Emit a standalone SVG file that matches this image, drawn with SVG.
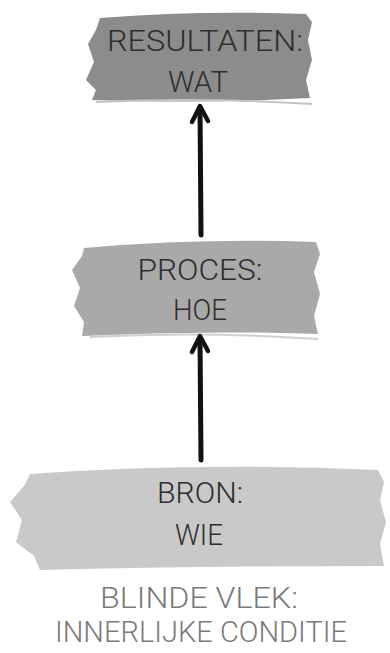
<svg xmlns="http://www.w3.org/2000/svg" width="390" height="653" viewBox="0 0 390 653">
  <style>
    .lbl { font-family: Roboto, "Liberation Sans", Arial, sans-serif; font-weight: 300; font-size: 29px; fill: #2e2e2e; text-anchor: middle; }
    .note { font-family: Roboto, "Liberation Sans", Arial, sans-serif; font-weight: 300; font-size: 29px; fill: #7a7a7a; text-anchor: middle; }
    .edge { stroke: #111; stroke-width: 5; fill: none; stroke-linecap: round; }
    .head { stroke: #111; stroke-width: 4.5; fill: none; stroke-linecap: round; stroke-linejoin: round; }
    .streak { fill: none; stroke-width: 2; }
  </style>
  <rect width="390" height="653" fill="#fff"/>

  <g id="resultaten">
    <path d="M100 18 Q200 10 306 14 L312 22 L308 40 L312 60 L306 80 L310 98 Q200 104 92 100 L96 90 L86 80 L94 62 L88 44 L96 30 Z" fill="#8c8c8c"/>
    <path class="streak" d="M96 102 Q200 97 312 104" stroke="#c4c4c4"/>
    <text class="lbl" x="205" y="51" textLength="196" lengthAdjust="spacingAndGlyphs">RESULTATEN:</text>
    <text class="lbl" x="198" y="92" textLength="60" lengthAdjust="spacingAndGlyphs">WAT</text>
  </g>

  <g id="proces">
    <path d="M84 248 Q200 238 316 242 L320 254 L314 272 L320 294 L314 316 L318 334 Q200 330 82 336 L84 322 L74 306 L80 288 L72 270 L82 256 Z" fill="#a9a9a9"/>
    <path class="streak" d="M90 337 Q200 331 318 339" stroke="#d0d0d0"/>
    <text class="lbl" x="200" y="280" textLength="125" lengthAdjust="spacingAndGlyphs">PROCES:</text>
    <text class="lbl" x="200" y="320" textLength="54" lengthAdjust="spacingAndGlyphs">HOE</text>
  </g>

  <g id="bron">
    <path d="M30 474 Q200 462 378 470 L384 482 L380 500 L386 522 L380 544 L384 566 Q200 566 40 570 L34 556 L16 542 L22 520 L10 502 L24 486 Z" fill="#c9c9c9"/>
    <text class="lbl" x="200" y="503" textLength="86" lengthAdjust="spacingAndGlyphs">BRON:</text>
    <text class="lbl" x="199" y="545" textLength="48" lengthAdjust="spacingAndGlyphs">WIE</text>
  </g>

  <g id="blinde-vlek">
    <text class="note" x="199" y="608" textLength="198" lengthAdjust="spacingAndGlyphs">BLINDE VLEK:</text>
    <text class="note" x="201" y="642" textLength="292" lengthAdjust="spacingAndGlyphs">INNERLIJKE CONDITIE</text>
  </g>

  <g id="connectors">
    <path class="edge" d="M201 235 L200 108"/>
    <path class="head" d="M192 122 L200 106 L208 121"/>
    <path class="edge" d="M201 460 L200 338"/>
    <path class="head" d="M192 352 L200 336 L208 351"/>
  </g>
</svg>
